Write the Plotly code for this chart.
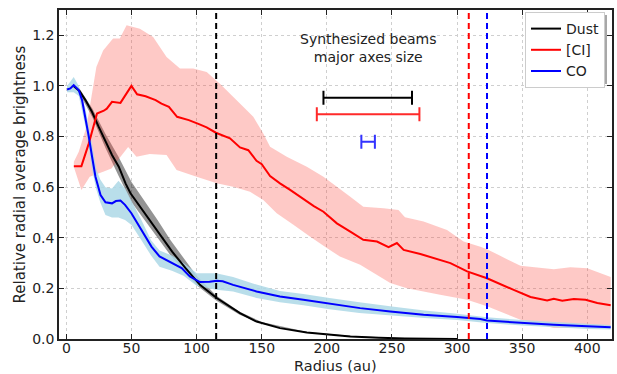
import plotly.graph_objects as go

# ---------------- data ----------------
dust_r = [5.5, 10, 14.6, 19.7, 24.8, 30, 35, 40.2, 45.4, 49.2, 53, 60.8, 71, 81.2, 91.5, 99.2,
          102.5, 115.4, 133.3, 146, 164, 184.6, 202.5, 218, 240, 260, 300]
dust_v = [1.0, 0.98, 0.944, 0.897, 0.838, 0.779, 0.727, 0.681, 0.615, 0.576, 0.549, 0.49, 0.418,
          0.345, 0.28, 0.234, 0.214, 0.162, 0.102, 0.069, 0.043, 0.026, 0.017, 0.01, 0.005, 0.002, 0.0]
dust_band_r = [5.5, 10, 20, 30, 40, 50, 60, 70, 80, 90, 100, 115, 133, 150, 185, 220, 260, 300]
dust_hi = [1.005, 0.99, 0.91, 0.81, 0.72, 0.62, 0.545, 0.47, 0.39, 0.32, 0.25, 0.172, 0.108,
           0.067, 0.028, 0.012, 0.003, 0.0]
dust_lo = [0.995, 0.97, 0.875, 0.755, 0.645, 0.54, 0.47, 0.40, 0.33, 0.27, 0.212, 0.152, 0.096,
           0.06, 0.024, 0.009, 0.001, 0.0]

ci_r = [5.7, 11.5, 17.2, 20, 23.5, 28.7, 31, 35, 41.5, 49.9, 54.3, 60.8, 68.5, 73, 78.7, 85, 94,
        101.8, 107.7, 114.8, 125.6, 133.3, 139.7, 146, 150, 156.4, 164, 171.8, 184.6, 190, 197.4,
        207.7, 218, 228, 238.5, 247.4, 253.8, 259, 271.8, 284.6, 294.9, 307.7, 317.9, 323, 343.5,
        356.4, 369.2, 374.3, 380.8, 389.7, 398.7, 407.7, 418]
ci_v = [0.683, 0.683, 0.773, 0.83, 0.891, 0.902, 0.91, 0.937, 0.933, 1.0, 0.967, 0.959, 0.944, 0.93,
        0.917, 0.878, 0.865, 0.849, 0.836, 0.815, 0.793, 0.757, 0.746, 0.704, 0.691, 0.644, 0.615,
        0.589, 0.543, 0.525, 0.503, 0.457, 0.424, 0.392, 0.385, 0.363, 0.379, 0.352, 0.336, 0.317,
        0.3, 0.267, 0.251, 0.24, 0.194, 0.166, 0.152, 0.159, 0.151, 0.158, 0.155, 0.142, 0.133]
ci_hi_r = [5.7, 9.5, 15.4, 23, 28.2, 35.8, 41, 46.2, 56.4, 66.6, 76.9, 87.2, 97.4, 107.7, 117.9,
           128, 138.5, 143.5, 151.2, 156.4, 169.2, 184.6, 197.4, 207.7, 218, 228, 243.5, 255, 260,
           274.3, 292.3, 305, 317.9, 323, 348.7, 374.3, 387, 400, 418]
ci_hi = [0.70, 0.74, 0.838, 1.075, 1.14, 1.187, 1.187, 1.24, 1.226, 1.193, 1.114, 1.069, 1.069,
         1.055, 1.009, 0.957, 0.904, 0.878, 0.812, 0.76, 0.72, 0.681, 0.641, 0.602, 0.562, 0.523,
         0.517, 0.51, 0.481, 0.464, 0.431, 0.385, 0.365, 0.355, 0.289, 0.276, 0.284, 0.28, 0.245]
ci_lo_r = [5.7, 11.5, 17.9, 28.2, 34.6, 43.5, 47.4, 53.8, 64, 76.9, 84.6, 100, 115.4, 128, 141,
           151.2, 161.5, 174.3, 187, 200, 210, 225.6, 248.7, 261.5, 287, 307.7, 323, 348.7, 374.3,
           400, 418]
ci_lo = [0.68, 0.589, 0.641, 0.661, 0.674, 0.733, 0.759, 0.72, 0.731, 0.727, 0.668, 0.641, 0.615,
         0.602, 0.582, 0.549, 0.497, 0.451, 0.405, 0.36, 0.326, 0.293, 0.221, 0.201, 0.175, 0.155,
         0.129, 0.076, 0.043, 0.043, 0.05]

co_r = [0.5, 3, 5.6, 9.5, 12, 14.6, 17.2, 19.7, 22.3, 26.2, 30, 35, 38, 41.5, 45, 49.9, 57.6, 65.3,
        71.5, 81.2, 88.5, 94.8, 99.2, 102.5, 110, 115.4, 120, 128, 146, 164, 182, 202.5, 218, 225.6,
        248.7, 274.3, 300, 317.9, 323, 348.7, 374.3, 400, 418]
co_v = [0.986, 0.99, 1.003, 0.983, 0.944, 0.878, 0.799, 0.72, 0.641, 0.569, 0.54, 0.536, 0.545,
        0.547, 0.53, 0.497, 0.431, 0.365, 0.326, 0.3, 0.28, 0.247, 0.234, 0.225, 0.226, 0.23, 0.228,
        0.214, 0.188, 0.168, 0.155, 0.139, 0.126, 0.122, 0.109, 0.096, 0.087, 0.079, 0.073, 0.063,
        0.056, 0.05, 0.046]
co_band_r = [0.5, 5.6, 9.5, 14.6, 19.7, 23, 26, 30, 35, 40, 45, 50, 57.6, 65, 71.5, 81, 90, 100,
             115, 128, 146, 164, 182, 202, 225, 250, 275, 300, 323, 350, 375, 400, 418]
co_hi = [1.0, 1.035, 1.0, 0.91, 0.77, 0.67, 0.63, 0.60, 0.595, 0.625, 0.595, 0.545, 0.47, 0.39,
         0.35, 0.33, 0.30, 0.26, 0.26, 0.245, 0.215, 0.19, 0.178, 0.162, 0.145, 0.128, 0.113, 0.10,
         0.086, 0.075, 0.067, 0.06, 0.055]
co_lo = [0.975, 0.975, 0.96, 0.84, 0.67, 0.59, 0.54, 0.49, 0.48, 0.48, 0.47, 0.45, 0.39, 0.33,
         0.285, 0.27, 0.25, 0.21, 0.195, 0.188, 0.162, 0.145, 0.133, 0.118, 0.103, 0.093, 0.083,
         0.075, 0.063, 0.053, 0.046, 0.04, 0.038]

vline_r = [115, 309, 323]
vline_colors = ["black", "red", "blue"]

beam_center = [231.4, 231.7, 231.7]
beam_half = [34.0, 39.4, 5.2]
beam_y = [0.953, 0.888, 0.779]
beam_colors = ["black", "#ff2a2a", "#3333ff"]

series_names = ["Dust", "[CI]", "CO"]
line_colors = ["black", "red", "blue"]

# ---------------- figure ----------------
fig = go.Figure()

bands = [
    (dust_band_r, dust_hi, dust_band_r, dust_lo, "rgba(0,0,0,0.42)"),
    (ci_hi_r, ci_hi, ci_lo_r, ci_lo, "rgba(250,60,50,0.28)"),
    (co_band_r, co_hi, co_band_r, co_lo, "rgba(173,216,230,0.85)"),
]
for xr_hi, yhi, xr_lo, ylo, col in bands:
    fig.add_trace(go.Scatter(
        x=list(xr_hi) + list(reversed(xr_lo)),
        y=list(yhi) + list(reversed(ylo)),
        fill="toself", fillcolor=col, mode="none",
        showlegend=False, hoverinfo="skip"))

for name, xr, yv, col in zip(series_names, [dust_r, ci_r, co_r], [dust_v, ci_v, co_v], line_colors):
    fig.add_trace(go.Scatter(x=xr, y=yv, mode="lines", name=name,
                             line=dict(color=col, width=2)))

for xv, col in zip(vline_r, vline_colors):
    fig.add_shape(type="line", xref="x", yref="paper", x0=xv, x1=xv, y0=0, y1=1,
                  line=dict(color=col, width=2, dash="6px,4px"))

for c, h, yv, col in zip(beam_center, beam_half, beam_y, beam_colors):
    fig.add_trace(go.Scatter(
        x=[c], y=[yv], mode="markers", marker=dict(size=0.1, color=col, opacity=0),
        error_x=dict(type="data", array=[h], symmetric=True, color=col, thickness=2, width=7),
        showlegend=False, hoverinfo="skip"))

fig.add_annotation(x=232, y=1.148, xref="x", yref="y",
                   text="Synthesized beams<br>major axes size", showarrow=False,
                   font=dict(size=14, color="#222222", family="DejaVu Sans"))

# axis titles placed as annotations
fig.add_annotation(x=(335 - 59) / 553, y=(339 - 365.5) / 329, xref="paper", yref="paper",
                   text="Radius (au)", showarrow=False, xanchor="center", yanchor="middle",
                   borderpad=0,
                   font=dict(size=14.5, color="#222222", family="DejaVu Sans"))
fig.add_annotation(x=(19 - 59) / 553, y=0.5, xref="paper", yref="paper",
                   text="Relative radial average brightness", showarrow=False, textangle=-90,
                   xanchor="center", yanchor="middle",
                   font=dict(size=15, color="#222222", family="DejaVu Sans"))

# legend shadow
fig.add_shape(type="rect", xref="paper", yref="paper",
              x0=(526 - 59) / 553, x1=(607 - 59) / 553,
              y0=1 - (84 - 10) / 329, y1=1 - (15 - 10) / 329,
              fillcolor="#a8a8a8", line=dict(width=0), layer="above")

axis_common = dict(
    showline=True, linecolor="#222222", linewidth=1.5, mirror="ticks",
    ticks="inside", ticklen=5, tickwidth=1.2, tickcolor="#222222",
    showgrid=True, gridcolor="#cfcfcf", griddash="dot", gridwidth=1,
    zeroline=False, automargin=False,
    tickfont=dict(size=14, color="#222222", family="DejaVu Sans"),
)

fig.update_layout(
    width=617, height=374,
    margin=dict(l=59, r=5, t=10, b=35),
    paper_bgcolor="white", plot_bgcolor="white",
    font=dict(family="DejaVu Sans", size=14, color="#222222"),
    xaxis=dict(range=[-5.7, 419], tickvals=[0, 50, 100, 150, 200, 250, 300, 350, 400],
               ticklabelstandoff=-5, **axis_common),
    yaxis=dict(range=[0, 1.3], tickvals=[0, 0.2, 0.4, 0.6, 0.8, 1.0, 1.2],
               tickformat=".1f", **axis_common),
    legend=dict(x=(605 - 59) / 553, y=1 - (12 - 10) / 329, xanchor="right", yanchor="top",
                bgcolor="white", bordercolor="#cccccc", borderwidth=1,
                font=dict(size=14, color="#222222"), tracegroupgap=0, itemwidth=30),
    showlegend=True,
)

fig.write_html("out.html")
